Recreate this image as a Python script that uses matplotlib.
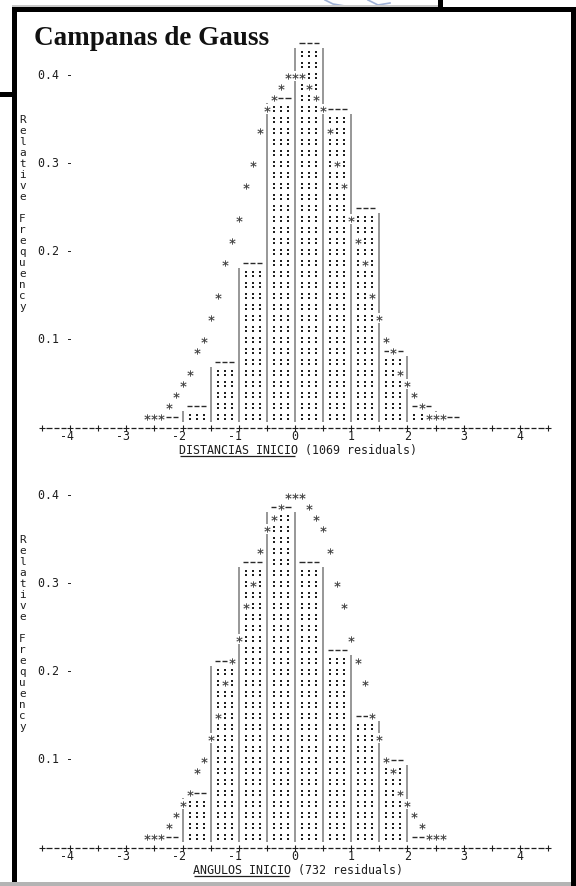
import matplotlib
matplotlib.use("Agg")
import matplotlib.pyplot as plt
from matplotlib.patches import Rectangle
from matplotlib.lines import Line2D

# one text line of the ascii plot, in relative frequency units
ROW = 0.0125
# one character column, in residual units (4 columns per bin)
COL = 0.125
BIN_W = 0.5

# DISTANCIAS INICIO histogram (left edge of each bin, bar height)
dist_left = [-2.5, -2.0, -1.5, -1.0, -0.5, 0.0, 0.5, 1.0, 1.5, 2.0, 2.5]
dist_freq = [0.0125, 0.025, 0.075, 0.1875, 0.375, 0.4375, 0.3625, 0.25, 0.0875, 0.025, 0.0125]

# ANGULOS INICIO histogram
ang_left = [-2.5, -2.0, -1.5, -1.0, -0.5, 0.0, 0.5, 1.0, 1.5, 2.0]
ang_freq = [0.0125, 0.0625, 0.2125, 0.325, 0.3875, 0.325, 0.225, 0.15, 0.1, 0.0125]

# normal curve drawn with '*' (same in both panels)
curve_x = [-2.625, -2.5, -2.375, -2.25, -2.125, -2.0, -1.875, -1.75, -1.625, -1.5,
           -1.375, -1.25, -1.125, -1.0, -0.875, -0.75, -0.625, -0.5, -0.375, -0.25,
           -0.125, 0.0, 0.125, 0.25, 0.375, 0.5, 0.625, 0.75, 0.875, 1.0,
           1.125, 1.25, 1.375, 1.5, 1.625, 1.75, 1.875, 2.0, 2.125, 2.25,
           2.375, 2.5, 2.625]
curve_y = [0.0125, 0.0125, 0.0125, 0.025, 0.0375, 0.05, 0.0625, 0.0875, 0.1, 0.125,
           0.15, 0.1875, 0.2125, 0.2375, 0.275, 0.3, 0.3375, 0.3625, 0.375, 0.3875,
           0.4, 0.4, 0.4, 0.3875, 0.375, 0.3625, 0.3375, 0.3, 0.275, 0.2375,
           0.2125, 0.1875, 0.15, 0.125, 0.1, 0.0875, 0.0625, 0.05, 0.0375, 0.025,
           0.0125, 0.0125, 0.0125]

x_ticks = [-4, -3, -2, -1, 0, 1, 2, 3, 4]
x_tick_labels = ["-4", "-3", "-2", "-1", "0", "1", "2", "3", "4"]
y_ticks = [0.1, 0.2, 0.3, 0.4]
y_tick_labels = ["0.1 -", "0.2 -", "0.3 -", "0.4 -"]
y_title = "Relative Frequency"

MONO = "DejaVu Sans Mono"
FS = 8.4
INK = "#1e1e1e"
W, H = 576, 886

fig = plt.figure(figsize=(W / 100, H / 100), dpi=100)
fig.patch.set_facecolor("white")


def px_box(x0, y0, x1, y1, color):
    fig.add_artist(Rectangle((x0 / W, 1 - y1 / H), (x1 - x0) / W, (y1 - y0) / H,
                             transform=fig.transFigure, facecolor=color,
                             edgecolor="none", zorder=10))


def panel(ax, lefts, freqs, name, rest):
    ax.set_xlim(-4.5, 4.5)
    ax.set_ylim(0, 0.45)
    ax.axis("off")

    rows = [int(round(f / ROW)) for f in freqs]

    # invisible bars so the histogram lives on the axes
    ax.bar(lefts, freqs, width=BIN_W, align="edge", color="none", edgecolor="none")

    # ':' fill of every bar
    dx, dy = [], []
    for left, k in zip(lefts, rows):
        for r in range(1, k):
            for c in (1, 2, 3):
                dx += [left + c * COL, left + c * COL]
                dy += [(r - 0.2) * ROW, (r + 0.2) * ROW]
    ax.scatter(dx, dy, s=3.6, marker="s", color="#202020", linewidths=0,
               zorder=2, clip_on=False)

    # '|' walls between bins
    edges = lefts + [lefts[-1] + BIN_W]
    padded = [0] + rows + [0]
    for i, e in enumerate(edges):
        top = max(padded[i], padded[i + 1]) - 1
        if top >= 1:
            ax.vlines(e, 0.5 * ROW, (top + 0.5) * ROW, color="#7a7a7a",
                      lw=1.1, zorder=2, clip_on=False)

    # '---' bar tops
    for left, k in zip(lefts, rows):
        for c in (1, 2, 3):
            cx = left + c * COL
            ax.hlines(k * ROW, cx - 0.045, cx + 0.045, color="#2a2a2a",
                      lw=1.0, zorder=2, clip_on=False)

    # '+---+---' axis
    half_ticks = [t * 0.5 for t in range(-9, 10)]
    for t in half_ticks[:-1]:
        for c in (1, 2, 3):
            cx = t + c * COL
            ax.hlines(0, cx - 0.045, cx + 0.045, color=INK, lw=0.9,
                      clip_on=False)
    ax.plot(half_ticks, [0] * len(half_ticks), ls="none", marker="+", ms=4.8,
            mew=0.8, color=INK, clip_on=False)

    for t, lab in zip(x_ticks, x_tick_labels):
        ax.text(t + COL / 2, -0.8 * ROW, lab, ha="right", va="center",
                family=MONO, fontsize=FS, color=INK)

    # x label, first part underlined
    x0 = -2.0625 if len(name) > 15 else -1.8125
    ax.text(x0, -2.05 * ROW, name + " " + rest, ha="left", va="center",
            family=MONO, fontsize=FS, color=INK)
    ax.hlines(-2.05 * ROW - 0.5 * ROW, x0 + 0.01, x0 + len(name) * COL * 0.97,
              color=INK, lw=0.9, clip_on=False)

    for v, lab in zip(y_ticks, y_tick_labels):
        ax.text(-4.5 - COL / 2, v, lab, ha="left", va="center", family=MONO,
                fontsize=FS, color=INK)

    for i, ch in enumerate(y_title):
        ax.text(-4.85, (28 - i) * ROW, ch, ha="center", va="center",
                family=MONO, fontsize=FS - 0.5, color=INK)

    # '*' curve overwrites whatever character was below it
    cell = [(-0.32, -0.5), (0.32, -0.5), (0.32, 0.5), (-0.32, 0.5)]
    ax.scatter(curve_x, curve_y, s=7.9 ** 2, marker=cell, color="white",
               linewidths=0, zorder=4, clip_on=False)
    ax.plot(curve_x, curve_y, ls="none", marker="$*$", ms=4.2, mew=0.2,
            color="#3c3c3c", zorder=5, clip_on=False)


ax1 = fig.add_axes([42 / W, (H - 427.7) / H, 506 / W, 396 / H])
panel(ax1, dist_left, dist_freq, "DISTANCIAS INICIO", "(1069 residuals)")

ax2 = fig.add_axes([42 / W, (H - 847.7) / H, 506 / W, 396 / H])
panel(ax2, ang_left, ang_freq, "ANGULOS INICIO", "(732 residuals)")

fig.text(34 / W, 1 - 45 / H, "Campanas de Gauss", ha="left", va="baseline",
         family="Liberation Serif", fontweight="bold", fontsize=19.5, color="#111111")

# page frame around the screenshot
px_box(12, 5, 438, 6.5, "#c8c8c8")
px_box(12, 7, 576, 12, "black")
px_box(12, 7, 17, 883, "black")
px_box(571, 7, 576, 886, "black")
px_box(0, 92, 12, 97, "black")
px_box(438, 0, 443, 7, "black")
px_box(0, 882, 571, 886, "#b4b4b4")
for xs, ys in [([325, 333, 345], [0, 4, 6]), ([368, 378, 390], [0, 5, 3])]:
    fig.add_artist(Line2D([x / W for x in xs], [1 - y / H for y in ys],
                          transform=fig.transFigure, color="#9fb1d6", lw=1.2))

plt.savefig("out.png", dpi=100)
